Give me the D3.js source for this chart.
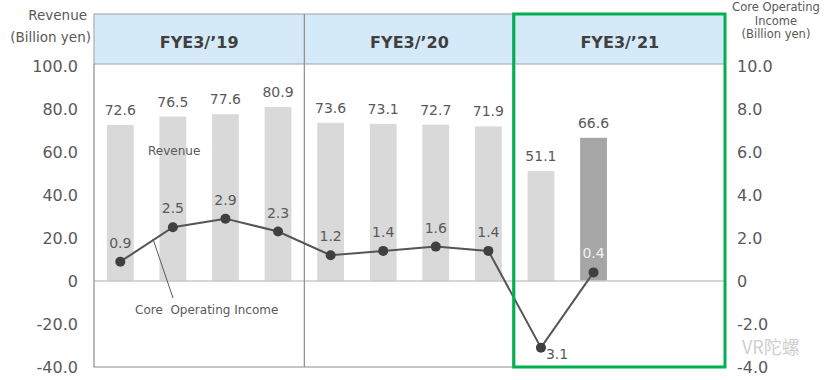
<!DOCTYPE html>
<html><head><meta charset="utf-8">
<script src="https://cdn.jsdelivr.net/npm/d3@7"></script>
<style>body{margin:0;background:#fff;} svg{display:block;font-family:"DejaVu Sans",Verdana,sans-serif;}</style>
</head><body>
<svg id="c" width="832" height="380"></svg>
<script>
const categories = ["1","2","3","4","5","6","7","8","9","10","11","12"];
const revenue = [72.6, 76.5, 77.6, 80.9, 73.6, 73.1, 72.7, 71.9, 51.1, 66.6];
const income = [0.9, 2.5, 2.9, 2.3, 1.2, 1.4, 1.6, 1.4, -3.1, 0.4];
const sections = ["FYE3/\u201919", "FYE3/\u201920", "FYE3/\u201921"];
const leftTicks = [100, 80, 60, 40, 20, 0, -20, -40];
const rightTicks = [10, 8, 6, 4, 2, 0, -2, -4];

const svg = d3.select("#c");
const L = 94, R = 725, T = 64, B = 367, HT = 14;
const x = d3.scaleBand().domain(categories).range([L, R]).paddingInner(0.49).paddingOuter(0.245);
const yL = d3.scaleLinear().domain([-40, 100]).range([B, 66]);
const yR = d3.scaleLinear().domain([-4, 10]).range([B, 66]);
const txt = "#595959";

// header
const secW = (R - L) / 3;
svg.append("rect").attr("x", L).attr("y", HT).attr("width", R - L).attr("height", T - HT)
  .attr("fill", "#d5eaf8").attr("stroke", "#a0a0a0").attr("stroke-width", 1);
sections.forEach((s, i) => {
  svg.append("text").attr("x", L + secW * (i + 0.5)).attr("y", 48).attr("text-anchor", "middle")
    .attr("font-size", 16).attr("font-weight", "bold").attr("fill", "#404040").text(s);
});

// bars
svg.selectAll("rect.bar").data(revenue).join("rect").attr("class", "bar")
  .attr("x", (d, i) => x(categories[i])).attr("width", x.bandwidth())
  .attr("y", d => yL(d)).attr("height", d => yL(0) - yL(d))
  .attr("fill", (d, i) => i === 9 ? "#a6a6a6" : "#d9d9d9");

// zero line
svg.append("line").attr("x1", L).attr("x2", R).attr("y1", yL(0)).attr("y2", yL(0))
  .attr("stroke", "#c8c8c8").attr("stroke-width", 1.5);

// plot frame & dividers
svg.append("path").attr("d", `M${L},${T}V${B}H${R}`).attr("fill", "none").attr("stroke", "#8c8c8c").attr("stroke-width", 1.2);
[1, 2].forEach(i => {
  const xx = L + secW * i;
  svg.append("line").attr("x1", xx).attr("x2", xx).attr("y1", HT).attr("y2", B).attr("stroke", "#8c8c8c").attr("stroke-width", 1.2);
});

// revenue labels
svg.selectAll("text.rv").data(revenue).join("text").attr("class", "rv")
  .attr("x", (d, i) => x(categories[i]) + x.bandwidth() / 2).attr("y", d => yL(d) - 10)
  .attr("text-anchor", "middle").attr("font-size", 14).attr("fill", txt).text(d => d.toFixed(1));

// line
const cx = (d, i) => x(categories[i]) + x.bandwidth() / 2;
svg.append("path").datum(income)
  .attr("d", d3.line().x(cx).y(d => yR(d)))
  .attr("fill", "none").attr("stroke", "#555").attr("stroke-width", 2);
svg.selectAll("circle.pt").data(income).join("circle").attr("class", "pt")
  .attr("cx", cx).attr("cy", d => yR(d)).attr("r", 5).attr("fill", "#404040");
svg.selectAll("text.inc").data(income).join("text").attr("class", "inc")
  .attr("x", (d, i) => i === 8 ? cx(d, i) + 5 : cx(d, i))
  .attr("y", (d, i) => i === 8 ? yR(d) + 11 : yR(d) - 14)
  .attr("text-anchor", (d, i) => i === 8 ? "start" : "middle")
  .attr("font-size", 14).attr("fill", (d, i) => i === 9 ? "#f2f2f2" : txt)
  .text(d => d < 0 ? Math.abs(d).toFixed(1) : d.toFixed(1));

// annotations
svg.append("text").attr("x", 148).attr("y", 155).attr("font-size", 12).attr("fill", txt).text("Revenue");
svg.append("line").attr("x1", 153).attr("y1", 239).attr("x2", 173).attr("y2", 298).attr("stroke", "#595959").attr("stroke-width", 1);
svg.append("text").attr("x", 135).attr("y", 314).attr("font-size", 12).attr("fill", txt).attr("xml:space", "preserve").text("Core  Operating Income");

// left axis
const gl = svg.append("g").attr("transform", `translate(${L},0)`)
  .call(d3.axisLeft(yL).tickValues(leftTicks).tickSize(0).tickPadding(16).tickFormat(d => d === 0 ? "0" : d.toFixed(1)));
gl.select(".domain").remove();
gl.selectAll("text").attr("font-size", 16).attr("fill", txt).attr("font-family", "DejaVu Sans, sans-serif");

// right axis
const gr = svg.append("g").attr("transform", `translate(${R},0)`)
  .call(d3.axisRight(yR).tickValues(rightTicks).tickSize(0).tickPadding(12).tickFormat(d => d === 0 ? "0" : d.toFixed(1)));
gr.select(".domain").remove();
gr.selectAll("text").attr("font-size", 16).attr("fill", txt).attr("font-family", "DejaVu Sans, sans-serif");

// axis titles
svg.append("text").attr("x", 87).attr("y", 20).attr("text-anchor", "end").attr("font-size", 13.5).attr("fill", txt).text("Revenue");
svg.append("text").attr("x", 91).attr("y", 42).attr("text-anchor", "end").attr("font-size", 13.5).attr("fill", txt).text("(Billion yen)");
["Core Operating", "Income", "(Billion yen)"].forEach((t, i) => {
  svg.append("text").attr("x", 776).attr("y", 11 + i * 13.5).attr("text-anchor", "middle").attr("font-size", 11.5).attr("fill", txt).text(t);
});

// green highlight box
svg.append("rect").attr("x", L + secW * 2 - 1).attr("y", HT).attr("width", R - (L + secW * 2) + 1).attr("height", B - HT)
  .attr("fill", "none").attr("stroke", "#00b050").attr("stroke-width", 3);

// watermark
svg.append("text").attr("x", 742).attr("y", 354).attr("font-size", 18).attr("fill", "#cfcfcf")
  .attr("font-family", "Noto Sans CJK SC, sans-serif").text("VR陀螺");
</script>
</body></html>
